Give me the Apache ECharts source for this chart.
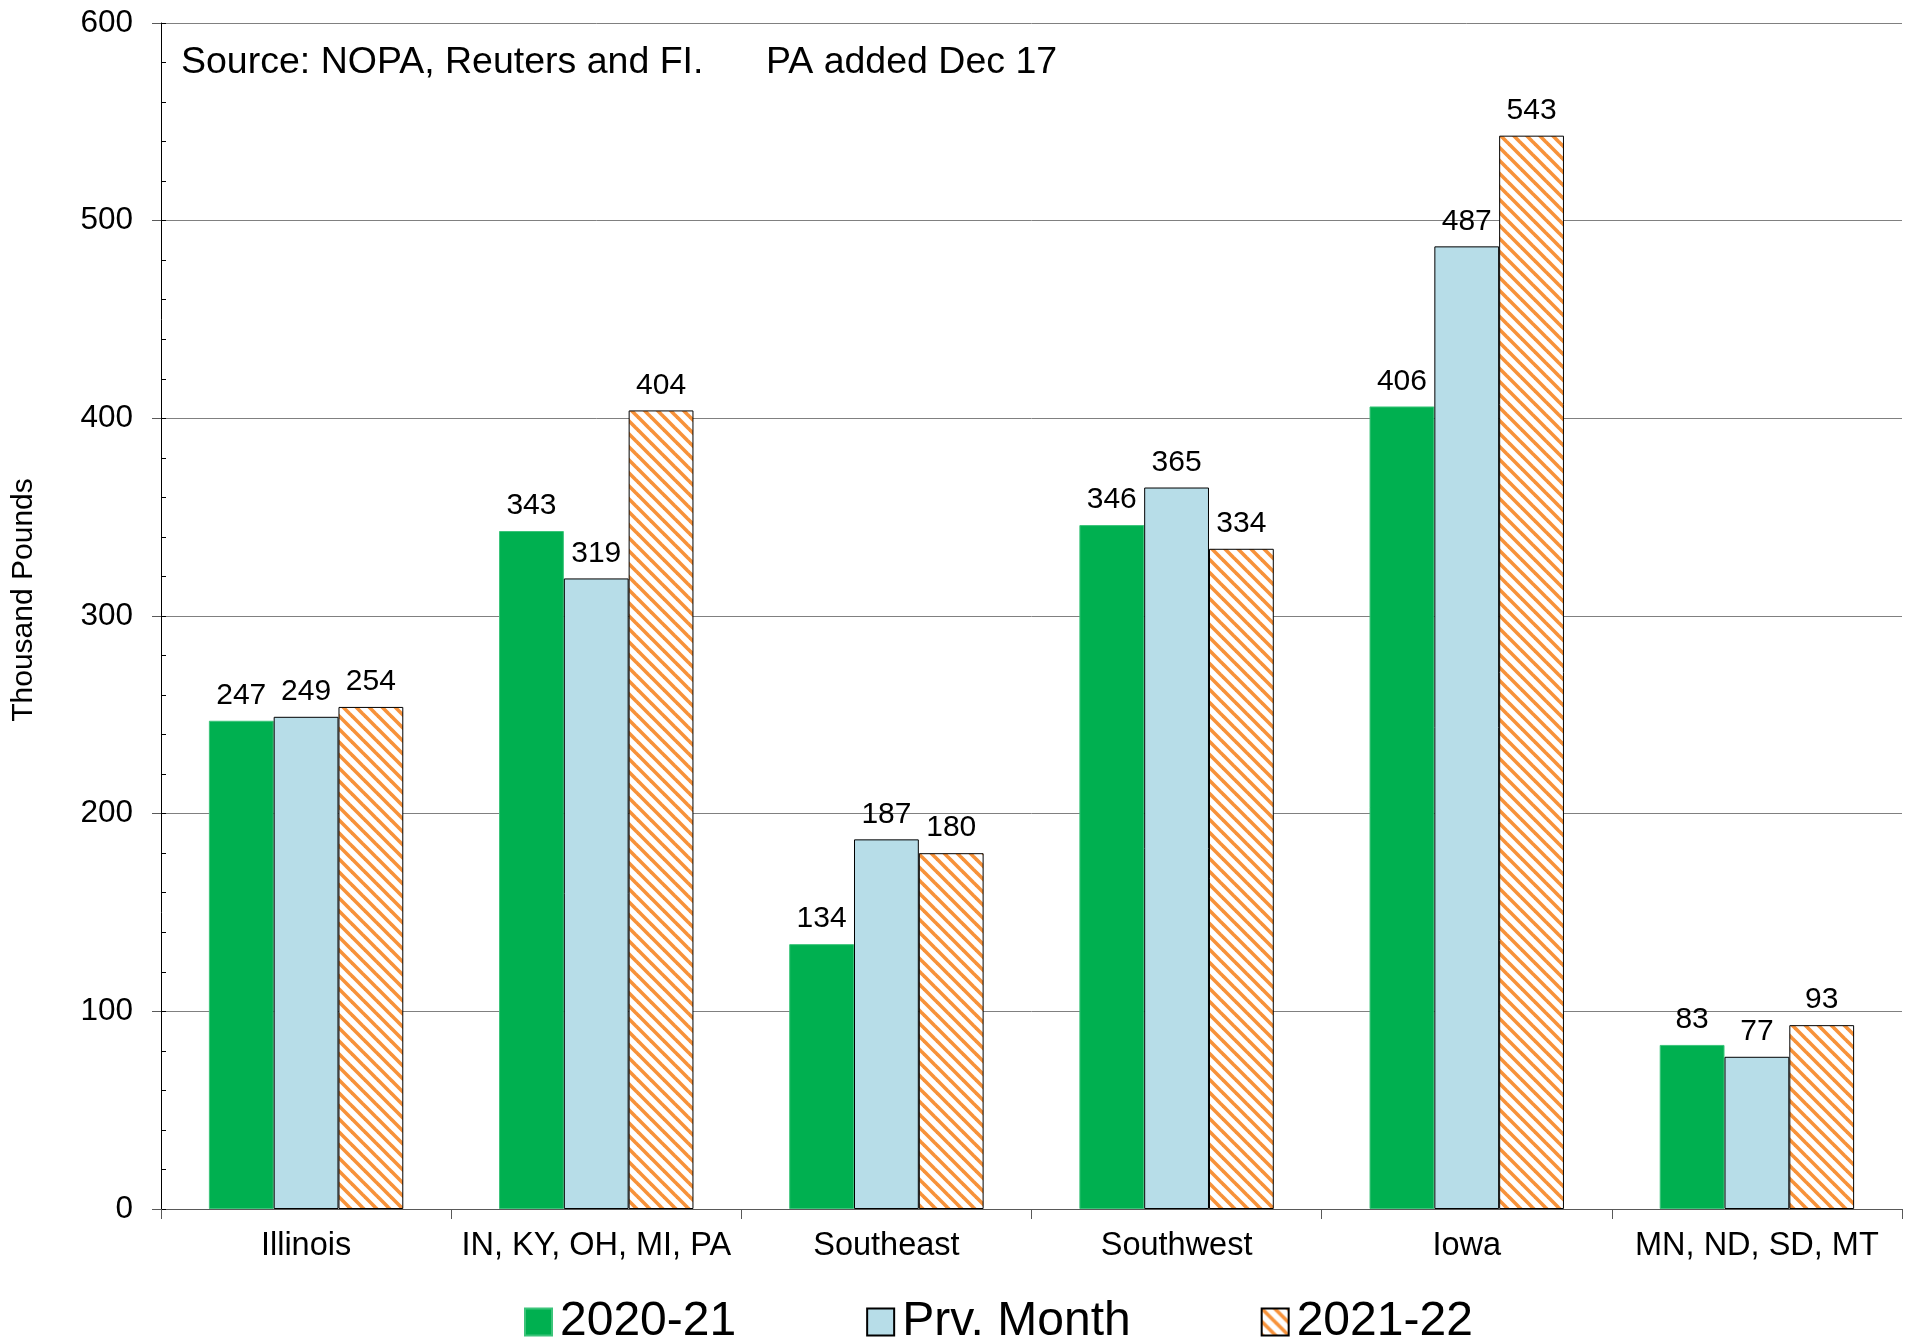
<!DOCTYPE html>
<html>
<head>
<meta charset="utf-8">
<script src="https://cdn.jsdelivr.net/npm/echarts@6/dist/echarts.min.js"></script>
<style>
html,body{margin:0;padding:0;background:#fff;}
#chart{width:1913px;height:1343px;}
</style>
</head>
<body>
<div id="chart"></div>
<script>
const categories = ['Illinois', 'IN, KY, OH, MI, PA', 'Southeast', 'Southwest', 'Iowa', 'MN, ND, SD, MT'];
const seriesNames = ['2020-21', 'Prv. Month', '2021-22'];
const values2021 = [247, 343, 134, 346, 406, 83];
const valuesPrv = [249, 319, 187, 365, 487, 77];
const values2122 = [254, 404, 180, 334, 543, 93];
const yTicks = [0, 100, 200, 300, 400, 500, 600];
const sourceText1 = 'Source: NOPA, Reuters and FI.';
const sourceText2 = 'PA added Dec 17';
const yTitle = 'Thousand Pounds';

const FONT = '"Liberation Sans", Arial, sans-serif';

// hatch pattern (diagonal "\" stripes, orange on white)
function makeHatch() {
  const s = 13;
  const c = document.createElement('canvas');
  c.width = s; c.height = s;
  const g = c.getContext('2d');
  g.fillStyle = '#ffffff';
  g.fillRect(0, 0, s, s);
  g.strokeStyle = '#F7923A';
  g.lineWidth = 3.6;
  for (const o of [-s, 0, s]) {
    g.beginPath();
    g.moveTo(o - 2, -2);
    g.lineTo(o + s + 2, s + 2);
    g.stroke();
  }
  return c;
}
const hatch = { image: makeHatch(), repeat: 'repeat' };

const chart = echarts.init(document.getElementById('chart'), null, { renderer: 'canvas' });

const labelStyle = {
  show: true, position: 'top', distance: 10,
  color: '#000', fontSize: 30, fontFamily: FONT
};

const option = {
  animation: false,
  backgroundColor: '#ffffff',
  textStyle: { fontFamily: FONT },
  grid: { left: 161, right: 11, top: 23, bottom: 134, containLabel: false },
  legend: {
    left: 519, top: 1293,
    itemWidth: 27, itemHeight: 27, itemGap: 130,
    textStyle: { fontSize: 48, color: '#000', fontFamily: FONT, padding: [0, 0, 0, 3] },
    data: seriesNames.map(n => ({ name: n, icon: 'rect' }))
  },
  xAxis: {
    type: 'category',
    data: categories,
    axisLine: { lineStyle: { color: '#595959', width: 1 } },
    axisTick: { show: true, alignWithLabel: false, length: 10, lineStyle: { color: '#595959' } },
    axisLabel: { color: '#000', fontSize: 32.5, fontFamily: FONT, margin: 21, interval: 0 },
    splitLine: { show: false }
  },
  yAxis: [
    {
      type: 'value', min: 0, max: 600, interval: 100,
      axisLine: { show: true, lineStyle: { color: '#000', width: 1 } },
      axisTick: { show: true, inside: false, length: 9, lineStyle: { color: '#595959' } },
      axisLabel: { color: '#000', fontSize: 31.5, fontFamily: FONT, margin: 28,
        formatter: v => (yTicks.indexOf(v) >= 0 ? String(v) : '') },
      splitLine: { show: true, lineStyle: { color: '#808080', width: 1 } }
    },
    {
      type: 'value', min: 0, max: 600, interval: 20, position: 'left',
      axisLine: { show: false },
      axisTick: { show: true, inside: true, length: 5, lineStyle: { color: '#000' } },
      axisLabel: { show: false },
      splitLine: { show: false }
    }
  ],
  graphic: [
    { type: 'text', left: 181, top: 44, style: { text: sourceText1, fill: '#000', font: '37.5px ' + FONT } },
    { type: 'text', left: 766, top: 44, style: { text: sourceText2, fill: '#000', font: '37.5px ' + FONT } },
    { type: 'text', x: 24, y: 600, rotation: Math.PI / 2,
      style: { text: yTitle, fill: '#000', font: '30px ' + FONT, align: 'center', verticalAlign: 'middle' } }
  ],
  series: [
    {
      name: seriesNames[0], type: 'bar', data: values2021, yAxisIndex: 0,
      barGap: '0%', barCategoryGap: '33%',
      itemStyle: { color: '#00B050', borderColor: '#3CC47A', borderWidth: 1 },
      label: labelStyle
    },
    {
      name: seriesNames[1], type: 'bar', data: valuesPrv, yAxisIndex: 0,
      barGap: '0%', barCategoryGap: '33%',
      itemStyle: { color: '#B7DDE8', borderColor: '#000', borderWidth: 1 },
      label: labelStyle
    },
    {
      name: seriesNames[2], type: 'bar', data: values2122, yAxisIndex: 0,
      barGap: '0%', barCategoryGap: '33%',
      itemStyle: { color: hatch, borderColor: '#000', borderWidth: 1 },
      label: labelStyle
    }
  ]
};
chart.setOption(option);
</script>
</body>
</html>
